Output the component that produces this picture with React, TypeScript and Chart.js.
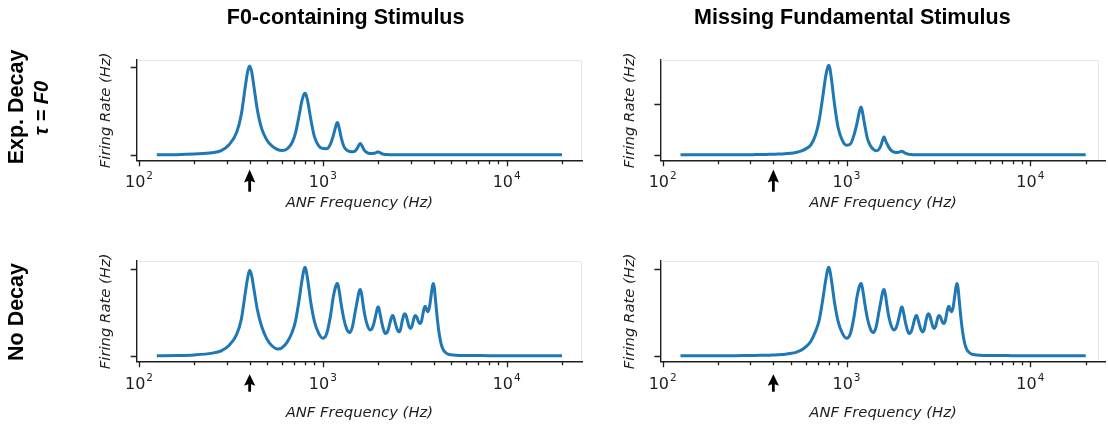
import React, { useEffect, useRef } from 'react';
import { Chart, registerables } from 'chart.js';

Chart.register(...registerables);

// ---------------- data ----------------
const FREQ_HZ = [
  125, 160, 200, 250, 280, 310, 340, 360, 380, 390,
  400, 410, 420, 440, 465, 495, 530, 570, 600, 640,
  680, 710, 740, 770, 790, 800, 810, 830, 860, 900,
  950, 1000, 1050, 1100, 1140, 1170, 1190, 1200, 1210, 1230,
  1260, 1300, 1350, 1400, 1450, 1500, 1540, 1570, 1590, 1600,
  1610, 1630, 1660, 1700, 1750, 1800, 1850, 1900, 1950, 1980,
  2000, 2020, 2060, 2100, 2150, 2200, 2250, 2300, 2350, 2390,
  2400, 2410, 2450, 2500, 2550, 2600, 2650, 2700, 2760, 2800,
  2840, 2900, 2950, 3000, 3050, 3100, 3150, 3200, 3250, 3300,
  3350, 3400, 3450, 3500, 3560, 3600, 3640, 3680, 3720, 3760,
  3800, 3850, 3900, 3950, 4000, 4050, 4100, 4200, 4300, 4400,
  4500, 4650, 4800, 5000, 5300, 6000, 8000, 12000, 20000,
];

// Exp. decay, F0-containing stimulus
const EXP_DECAY_F0 = [
  0.2, 0.4, 1.1, 2.5, 5, 12, 26, 46, 80, 95,
  101.5, 95, 81, 52, 30, 17.5, 10, 6, 5.2, 7,
  14, 25, 43, 62, 69.5, 70.5, 69, 60, 41, 21,
  10.5, 7.3, 7.2, 12.5, 22, 31, 36.2, 37, 36, 30,
  19.5, 10, 5.5, 4, 3.8, 4.6, 7.8, 11, 12.8, 13,
  12.6, 10.8, 7.5, 4.2, 2.4, 1.7, 1.6, 2, 2.8, 3.4,
  3.5, 3.3, 2.3, 1.4, 0.9, 0.6, 0.45, 0.35, 0.3, 0.25,
  0.2, 0.2, 0.2, 0.2, 0.2, 0.2, 0.2, 0.2, 0.2, 0.2,
  0.2, 0.2, 0.2, 0.2, 0.2, 0.2, 0.2, 0.2, 0.2, 0.2,
  0.2, 0.2, 0.2, 0.2, 0.2, 0.2, 0.2, 0.2, 0.2, 0.2,
  0.2, 0.2, 0.2, 0.2, 0.2, 0.2, 0.2, 0.2, 0.2, 0.2,
  0.2, 0.2, 0.2, 0.2, 0.2, 0.2, 0.2, 0.2, 0.2,
];

// Exp. decay, missing fundamental stimulus
const EXP_DECAY_MISSING = [
  0.2, 0.2, 0.2, 0.25, 0.3, 0.35, 0.4, 0.5, 0.6, 0.65,
  0.7, 0.8, 0.9, 1.0, 1.3, 1.7, 2.5, 4, 6, 10,
  20, 34, 55, 77, 86, 88, 86, 73, 50, 27,
  14, 9.6, 10.8, 20, 31, 41, 46, 47, 45.5, 39,
  28, 16, 9, 5.5, 4.1, 5.5, 9.5, 14.5, 17.2, 17.6,
  17, 14.2, 11, 7.5, 4.5, 3, 2.5, 2.5, 3.1, 3.5,
  3.6, 3.4, 2.5, 1.5, 0.9, 0.6, 0.45, 0.35, 0.3, 0.25,
  0.2, 0.2, 0.2, 0.2, 0.2, 0.2, 0.2, 0.2, 0.2, 0.2,
  0.2, 0.2, 0.2, 0.2, 0.2, 0.2, 0.2, 0.2, 0.2, 0.2,
  0.2, 0.2, 0.2, 0.2, 0.2, 0.2, 0.2, 0.2, 0.2, 0.2,
  0.2, 0.2, 0.2, 0.2, 0.2, 0.2, 0.2, 0.2, 0.2, 0.2,
  0.2, 0.2, 0.2, 0.2, 0.2, 0.2, 0.2, 0.2, 0.2,
];

// No decay, F0-containing stimulus
const NO_DECAY_F0 = [
  0.3, 0.5, 1.2, 3.3, 6, 12.5, 25, 42, 75, 90,
  99, 93, 80, 54, 34, 20, 11.5, 8, 9.5, 16,
  27, 40, 62, 87, 100, 102.3, 99.5, 86, 62, 40,
  26, 20.5, 26, 46, 68, 79, 83, 83.5, 82, 74,
  59, 43, 31, 27, 34, 51, 64, 73, 76.3, 76.6,
  75.5, 70, 58, 45, 35, 30, 31.5, 38.5, 49, 55,
  56.7, 55, 46, 37, 29, 25.8, 28, 35, 43, 46.5,
  46.8, 46.5, 42, 35, 29.5, 27.8, 31, 40, 47.5, 48.6,
  46.5, 39, 33.5, 31.8, 34, 40, 45.5, 46.8, 44.5, 40.5,
  38, 37.6, 41, 48, 55.5, 57.5, 55.5, 52.5, 51, 52.5,
  56, 64, 73, 81, 83.5, 77, 65, 42, 25, 14,
  8, 4, 2.2, 1.3, 0.8, 0.5, 0.4, 0.3, 0.3,
];

// No decay, missing fundamental stimulus
const NO_DECAY_MISSING = [
  0.3, 0.3, 0.35, 0.4, 0.5, 0.6, 0.7, 0.8, 0.9, 1.0,
  1.1, 1.2, 1.3, 1.6, 2.1, 2.9, 4.2, 7, 10.5, 17,
  29, 41, 63, 87, 100, 102.3, 99.5, 86, 62, 40,
  26, 20.5, 26, 46, 68, 79, 83, 83.5, 82, 74,
  59, 43, 31, 27, 34, 51, 64, 73, 76.3, 76.6,
  75.5, 70, 58, 45, 35, 30, 31.5, 38.5, 49, 55,
  56.7, 55, 46, 37, 29, 25.8, 28, 35, 43, 46.5,
  46.8, 46.5, 42, 35, 29.5, 27.8, 31, 40, 47.5, 48.6,
  46.5, 39, 33.5, 31.8, 34, 40, 45.5, 46.8, 44.5, 40.5,
  38, 37.6, 41, 48, 55.5, 57.5, 55.5, 52.5, 51, 52.5,
  56, 64, 73, 81, 83.5, 77, 65, 42, 25, 14,
  8, 4, 2.2, 1.3, 0.8, 0.5, 0.4, 0.3, 0.3,
];

const X_TICKS = [
  100, 200, 300, 400, 500, 600, 700, 800, 900,
  1000, 2000, 3000, 4000, 5000, 6000, 7000, 8000, 9000,
  10000, 20000,
];
// major tick labels: base and exponent (10^2, 10^3, 10^4)
const X_TICK_EXPONENTS: Record<number, string> = { 100: '2', 1000: '3', 10000: '4' };
const X_TICK_BASE = '10';
const X_MIN = 97.2;
const X_MAX = 25690;
const F0_HZ = 400;

const COLUMN_TITLES = ['F0-containing Stimulus', 'Missing Fundamental Stimulus'];
const ROW_TITLES = ['Exp. Decay', 'No Decay'];
const ROW_SUBTITLE = 'τ = F0';
const X_TITLE = 'ANF Frequency (Hz)';
const Y_TITLE = 'Firing Rate (Hz)';

// ---------------- style / layout ----------------
const W = 1108;
const H = 428;
const LINE_COLOR = '#1f77b4';
const AXIS_COLOR = '#1e1e1e';
const FRAME_COLOR = '#e6e6e6';
const Y_BOX_W = 40;
const AXIS_FONT = "'DejaVu Sans', sans-serif";

type PanelCfg = {
  values: number[];
  left: number; right: number; top: number; bottom: number;
  yMin: number; yMax: number; yTicks: number[];
  frameInset: number; xTitleY: number; labelBaseline: number;
  arrow: { tip: number; tail: number; head: number; half: number };
};

const TOP_ARROW = { tip: 8.8, tail: 31, head: 13, half: 5.6 };
const BOTTOM_ARROW = { tip: 12.5, tail: 30, head: 11.5, half: 5.6 };

const PANELS: PanelCfg[] = [
  { values: EXP_DECAY_F0, left: 136.7, right: 582, top: 60, bottom: 160.7,
    yMin: -6.5, yMax: 108.3, yTicks: [0, 100], frameInset: 0, xTitleY: 203.3, labelBaseline: 26.3, arrow: TOP_ARROW },
  { values: EXP_DECAY_MISSING, left: 660.4, right: 1105.7, top: 60, bottom: 160.7,
    yMin: -5.6, yMax: 93.1, yTicks: [0, 50], frameInset: 6.4, xTitleY: 203.3, labelBaseline: 26.3, arrow: TOP_ARROW },
  { values: NO_DECAY_F0, left: 136.7, right: 582, top: 261, bottom: 361.7,
    yMin: -6.6, yMax: 109.6, yTicks: [0, 100], frameInset: 0, xTitleY: 413.3, labelBaseline: 27.6, arrow: BOTTOM_ARROW },
  { values: NO_DECAY_MISSING, left: 660.4, right: 1105.7, top: 261, bottom: 361.7,
    yMin: -6.6, yMax: 109.6, yTicks: [0, 100], frameInset: 6.4, xTitleY: 413.3, labelBaseline: 27.6, arrow: BOTTOM_ARROW },
];

function decorPlugin(cfg: PanelCfg) {
  return {
    id: 'panelDecor',
    afterDraw(chart: any) {
      const { ctx, chartArea: a } = chart;
      const xs = chart.scales.x;
      const ys = chart.scales.y;
      ctx.save();
      // light frame (top + right)
      ctx.strokeStyle = FRAME_COLOR;
      ctx.lineWidth = 1;
      const fr = Math.round(a.right - cfg.frameInset) - 0.5;
      const ft = Math.round(a.top) + 0.5;
      ctx.beginPath();
      ctx.moveTo(a.left + 1, ft);
      ctx.lineTo(fr, ft);
      ctx.lineTo(fr, a.bottom - 1);
      ctx.stroke();
      // tick marks
      ctx.strokeStyle = AXIS_COLOR;
      ctx.lineWidth = 1.3;
      ctx.beginPath();
      xs.ticks.forEach((t: any) => {
        const px = Math.round(xs.getPixelForValue(t.value)) + 0.5;
        const len = X_TICK_EXPONENTS[t.value] ? 5.5 : 3.5;
        ctx.moveTo(px, a.bottom);
        ctx.lineTo(px, a.bottom + len);
      });
      ys.ticks.forEach((t: any) => {
        const py = Math.round(ys.getPixelForValue(t.value)) + 0.5;
        ctx.moveTo(a.left - 6, py);
        ctx.lineTo(a.left, py);
      });
      ctx.stroke();
      // major tick labels 10^n (base + raised exponent)
      ctx.fillStyle = AXIS_COLOR;
      ctx.textBaseline = 'alphabetic';
      ctx.textAlign = 'left';
      const baseFont = `16px ${AXIS_FONT}`;
      const expFont = `10.5px ${AXIS_FONT}`;
      xs.ticks.forEach((t: any) => {
        const exp = X_TICK_EXPONENTS[t.value];
        if (!exp) return;
        const px = xs.getPixelForValue(t.value);
        ctx.font = baseFont;
        const wb = ctx.measureText(X_TICK_BASE).width;
        ctx.font = expFont;
        const we = ctx.measureText(exp).width;
        const x0 = px - (wb + 1 + we) / 2;
        const yb = a.bottom + cfg.labelBaseline;
        ctx.font = baseFont;
        ctx.fillText(X_TICK_BASE, x0, yb);
        ctx.font = expFont;
        ctx.fillText(exp, x0 + wb + 1, yb - 8);
      });
      // F0 arrow
      const ax = xs.getPixelForValue(F0_HZ);
      const tip = a.bottom + cfg.arrow.tip;
      const base = tip + cfg.arrow.head;
      const tail = a.bottom + cfg.arrow.tail;
      ctx.fillStyle = '#000';
      ctx.beginPath();
      ctx.moveTo(ax, tip);
      ctx.lineTo(ax + cfg.arrow.half, base);
      ctx.lineTo(ax, base - 2);
      ctx.lineTo(ax - cfg.arrow.half, base);
      ctx.closePath();
      ctx.fill();
      ctx.fillRect(ax - 1.4, base - 3, 2.8, tail - base + 3);
      ctx.restore();
    },
  };
}

function Panel({ cfg }: { cfg: PanelCfg }) {
  const ref = useRef<HTMLCanvasElement | null>(null);
  useEffect(() => {
    const canvas = ref.current;
    if (!canvas) return;
    const xScaleBottom = cfg.xTitleY + 8.9;
    const chart = new Chart(canvas, {
      type: 'line',
      data: {
        datasets: [
          {
            data: FREQ_HZ.map((f, i) => ({ x: f, y: cfg.values[i] })),
            borderColor: LINE_COLOR,
            borderWidth: 3,
            pointRadius: 0,
            fill: false,
            cubicInterpolationMode: 'monotone',
          } as any,
        ],
      },
      options: {
        animation: false,
        responsive: false,
        events: [],
        layout: {
          padding: {
            left: cfg.left - Y_BOX_W,
            top: cfg.top,
            right: W - cfg.right,
            bottom: H - xScaleBottom,
          },
        },
        plugins: { legend: { display: false }, tooltip: { enabled: false } },
        scales: {
          x: {
            type: 'logarithmic',
            min: X_MIN,
            max: X_MAX,
            afterBuildTicks: (s: any) => {
              s.ticks = X_TICKS.map((v) => ({ value: v }));
            },
            afterFit: (s: any) => {
              s.height = xScaleBottom - cfg.bottom;
            },
            grid: { display: true, drawOnChartArea: false, drawTicks: false },
            border: { display: true, color: AXIS_COLOR, width: 1.4 },
            ticks: { display: false, autoSkip: false },
            title: {
              display: true,
              text: X_TITLE,
              color: AXIS_COLOR,
              padding: 0,
              font: { family: AXIS_FONT, size: 14.8, style: 'italic' },
            },
          },
          y: {
            type: 'linear',
            min: cfg.yMin,
            max: cfg.yMax,
            afterBuildTicks: (s: any) => {
              s.ticks = cfg.yTicks.map((v) => ({ value: v }));
            },
            afterFit: (s: any) => {
              s.width = Y_BOX_W;
            },
            grid: { display: true, drawOnChartArea: false, drawTicks: false },
            border: { display: true, color: AXIS_COLOR, width: 1.4 },
            ticks: { display: false },
            title: {
              display: true,
              text: Y_TITLE,
              color: AXIS_COLOR,
              padding: { top: 0.6, bottom: 0 },
              font: { family: AXIS_FONT, size: 14.8, style: 'italic' },
            },
          },
        },
      } as any,
      plugins: [decorPlugin(cfg) as any],
    });
    return () => chart.destroy();
  }, [cfg]);
  return (
    <canvas
      ref={ref}
      width={W}
      height={H}
      style={{ position: 'absolute', left: 0, top: 0, width: W, height: H, pointerEvents: 'none' }}
    />
  );
}

const boldText: React.CSSProperties = {
  position: 'absolute',
  fontFamily: "'Liberation Sans', Arial, sans-serif",
  fontWeight: 700,
  fontSize: 21.5,
  lineHeight: 1,
  whiteSpace: 'nowrap',
  color: '#000',
};

function Label({ text, cx, cy, rotate, size, italic }: { text: string; cx: number; cy: number; rotate?: boolean; size?: number; italic?: boolean }) {
  return (
    <div
      style={{
        ...boldText,
        left: cx,
        top: cy,
        fontSize: size ?? 21.5,
        fontStyle: italic ? 'italic' : 'normal',
        transform: rotate ? 'translate(-50%, -50%) rotate(-90deg)' : 'translate(-50%, -50%)',
      }}
    >
      {text}
    </div>
  );
}

export default function App() {
  return (
    <div style={{ position: 'absolute', left: 0, top: 0, width: W, height: H, background: '#fff', overflow: 'hidden' }}>
      {PANELS.map((p, i) => (
        <Panel key={i} cfg={p} />
      ))}
      <Label text={COLUMN_TITLES[0]} cx={345.6} cy={17.8} />
      <Label text={COLUMN_TITLES[1]} cx={852.4} cy={17.8} />
      <Label text={ROW_TITLES[0]} cx={16.6} cy={106.5} rotate />
      <Label text={ROW_SUBTITLE} cx={41} cy={108.3} rotate size={20} italic />
      <Label text={ROW_TITLES[1]} cx={16.6} cy={311.6} rotate />
    </div>
  );
}
